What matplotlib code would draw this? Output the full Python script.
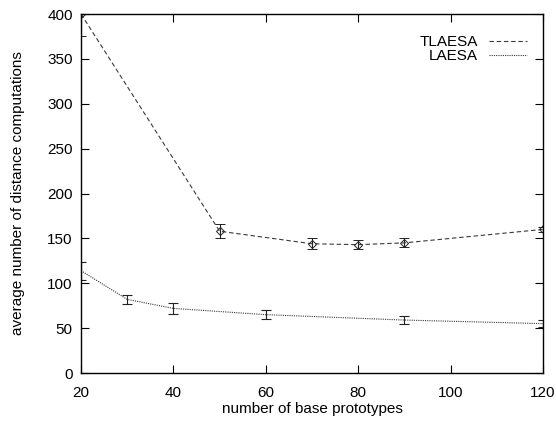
import matplotlib.pyplot as plt
plt.switch_backend('Agg')
from matplotlib.lines import Line2D
import numpy as np

plt.rcParams.update({
    'font.size': 11,
    'font.family': ['Liberation Sans', 'DejaVu Sans'],
    'xtick.direction': 'in',
    'ytick.direction': 'in',
})

# data
tl_x = [20, 50, 70, 80, 90, 120]
tl_y = [400, 158, 144, 143, 145, 160]
tl_err = [25, 8, 6, 5, 5, 3]

la_x = [20, 30, 40, 60, 90, 120]
la_y = [114, 82, 72, 65, 59, 55]
la_err = [10, 5, 6, 5, 4, 4]

xticks = [20, 40, 60, 80, 100, 120]
yticks = [0, 50, 100, 150, 200, 250, 300, 350, 400]

fig = plt.figure(figsize=(5.56, 4.22), dpi=100)
ax = fig.add_axes([0.1457, 0.1161, 0.8309, 0.8507])

line_col = '#3a3a3a'
ax.errorbar(tl_x, tl_y, yerr=tl_err, color=line_col, ecolor='#222222',
            linestyle=(0, (4, 2.5)), linewidth=0.8, marker='D', markersize=4,
            markerfacecolor='none', markeredgecolor='#222222', markeredgewidth=0.7,
            capsize=3.5, elinewidth=0.8, capthick=0.8)
ax.errorbar(la_x, la_y, yerr=la_err, color=line_col, ecolor='#222222',
            linestyle=(0, (1, 1)), linewidth=0.8,
            capsize=3.5, elinewidth=0.8, capthick=0.8)

ax.set_xlim(20, 120)
ax.set_ylim(0, 400)
ax.set_xticks(xticks)
ax.set_yticks(yticks)
ax.tick_params(top=True, right=True, length=6, width=0.8)
ax.tick_params(axis='y', pad=6)
ax.tick_params(axis='x', pad=9)
for s in ax.spines.values():
    s.set_linewidth(1.0)

ax.set_xlabel('number of base prototypes', labelpad=2)
ax.set_ylabel('average number of distance computations', labelpad=16)

handles = [Line2D([], [], color=line_col, linestyle=(0, (4, 2.5)), linewidth=0.8),
           Line2D([], [], color=line_col, linestyle=(0, (1, 1)), linewidth=0.8)]
ax.legend(handles, ['TLAESA', 'LAESA'], loc='upper right', frameon=False,
          bbox_to_anchor=(0.978, 0.958), borderaxespad=0,
          markerfirst=False, handlelength=2.5, handletextpad=0.7,
          labelspacing=0.0)

fig.savefig('out.png', dpi=100)
